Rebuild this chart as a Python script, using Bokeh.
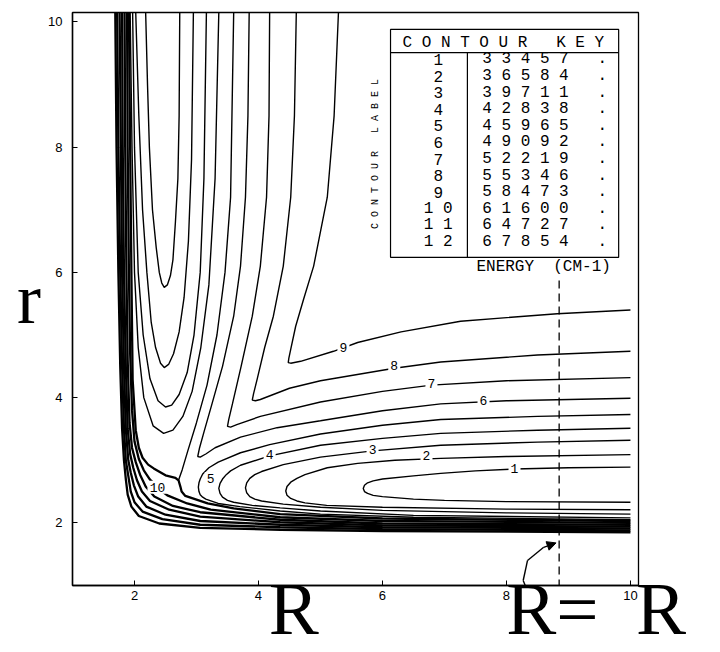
from bokeh.plotting import figure
from bokeh.models import Range1d, FixedTicker, Arrow, NormalHead
from bokeh.embed import file_html
from bokeh.resources import INLINE
from bokeh.core.properties import value

NB = "\u00a0"

# ---------------- data ----------------
levels = [33457, 36584, 39711, 42838, 45965, 49092, 52219, 55346, 58473, 61600, 64727, 67854]
level_ids = list(range(1, 13))

# bottom-channel contours (open to the right edge), upper branch -> tip -> lower branch
C1_R = [10, 9, 8.13, 7.5, 6.94, 6.5, 6.0, 5.85, 5.76, 5.71, 5.69, 5.71, 5.76, 5.85, 6.0, 6.5, 7, 8, 10]
C1_r = [2.89, 2.88, 2.86, 2.83, 2.79, 2.75, 2.70, 2.67, 2.64, 2.60, 2.55, 2.50, 2.47, 2.44, 2.42, 2.38, 2.36, 2.34, 2.33]
C2_R = [10, 8, 6.94, 6.2, 5.6, 5.11, 4.75, 4.62, 4.52, 4.46, 4.44, 4.46, 4.52, 4.62, 4.75, 5.1, 6, 8, 10]
C2_r = [3.09, 3.06, 3.03, 3.0, 2.95, 2.88, 2.77, 2.71, 2.65, 2.58, 2.51, 2.44, 2.39, 2.35, 2.32, 2.28, 2.25, 2.22, 2.21]
C3_R = [10, 8.5, 6.94, 5.84, 5, 4.4, 4.05, 3.94, 3.86, 3.81, 3.79, 3.81, 3.86, 3.94, 4.05, 4.4, 5, 6, 8, 10]
C3_r = [3.32, 3.29, 3.24, 3.15, 3.05, 2.93, 2.82, 2.77, 2.71, 2.64, 2.56, 2.48, 2.42, 2.38, 2.35, 2.30, 2.25, 2.20, 2.16, 2.14]
C4_R = [10, 8.5, 6.94, 6, 5, 4.18, 3.71, 3.55, 3.48, 3.42, 3.38, 3.36, 3.38, 3.42, 3.5, 3.6, 3.9, 4.35, 5, 6.5, 10]
C4_r = [3.51, 3.48, 3.43, 3.35, 3.24, 3.07, 2.92, 2.83, 2.77, 2.70, 2.63, 2.55, 2.47, 2.41, 2.36, 2.33, 2.28, 2.24, 2.19, 2.12, 2.08]
C5_R = [10, 8.5, 6.94, 6, 5, 4.18, 3.71, 3.35, 3.2, 3.1, 3.06, 3.04, 3.03, 3.04, 3.06, 3.1, 3.15, 3.35, 3.7, 4.35, 5, 6.5, 10]
C5_r = [3.73, 3.70, 3.65, 3.56, 3.42, 3.25, 3.12, 2.97, 2.88, 2.78, 2.70, 2.64, 2.57, 2.50, 2.45, 2.41, 2.38, 2.31, 2.26, 2.19, 2.14, 2.09, 2.05]

# L-shaped contours around the upper-right plateau (top edge -> corner -> right edge)
L6_R = [3.85, 3.83, 3.79, 3.71, 3.6, 3.42, 3.25, 3.12, 3.05, 3.02, 3.06, 3.15, 3.3, 3.71, 4.3, 5, 6, 6.94, 8, 10]
L6_r = [10.15, 8.5, 7.2, 6.1, 5.3, 4.5, 3.9, 3.45, 3.2, 3.06, 3.05, 3.1, 3.2, 3.37, 3.52, 3.63, 3.79, 3.9, 3.95, 3.99]
L7_R = [4.18, 4.17, 4.13, 4.03, 3.9, 3.72, 3.58, 3.52, 3.5, 3.55, 3.65, 4.03, 5, 6, 6.79, 8, 10]
L7_r = [10.15, 8.5, 7.2, 6.1, 5.3, 4.5, 3.9, 3.65, 3.54, 3.53, 3.57, 3.70, 3.93, 4.1, 4.2, 4.27, 4.32]
L8_R = [4.61, 4.58, 4.52, 4.40, 4.24, 4.10, 3.98, 3.92, 3.90, 3.95, 4.03, 4.5, 5, 6.19, 6.94, 8.5, 10]
L8_r = [10.15, 8.5, 7.2, 6.1, 5.3, 4.8, 4.3, 4.06, 3.96, 3.95, 3.97, 4.15, 4.27, 4.47, 4.57, 4.68, 4.74]
L9_R = [5.29, 5.22, 5.11, 4.89, 4.73, 4.6, 4.52, 4.49, 4.48, 4.52, 4.68, 5.21, 5.6, 6.3, 7.26, 8.82, 10]
L9_r = [10.15, 8.5, 7.2, 6.1, 5.58, 5.14, 4.77, 4.63, 4.56, 4.55, 4.58, 4.74, 4.88, 5.05, 5.22, 5.34, 5.40]

# left-channel contours (open to the top edge)
Ua_R = [2.18, 2.21, 2.24, 2.29, 2.35, 2.40, 2.44, 2.48, 2.53, 2.58, 2.62, 2.66, 2.70, 2.72, 2.73]
Ua_r = [10.15, 9.0, 8.0, 7.0, 6.4, 6.0, 5.83, 5.76, 5.80, 5.95, 6.2, 6.8, 7.5, 8.5, 10.15]
Ub_R = [2.02, 2.07, 2.13, 2.20, 2.27, 2.34, 2.42, 2.48, 2.55, 2.63, 2.72, 2.80, 2.87, 2.92, 2.95]
Ub_r = [10.15, 8.5, 7.0, 6.0, 5.2, 4.8, 4.55, 4.48, 4.53, 4.7, 5.05, 5.6, 6.5, 7.8, 10.15]
Uc_R = [1.97, 2.0, 2.06, 2.14, 2.25, 2.38, 2.5, 2.6, 2.72, 2.85, 2.96, 3.06, 3.12, 3.16]
Uc_r = [10.15, 8, 6, 5, 4.3, 3.95, 3.85, 3.88, 4.05, 4.4, 5.0, 6.0, 7.5, 10.15]
Ud_R = [1.93, 1.96, 2.0, 2.06, 2.15, 2.3, 2.47, 2.62, 2.78, 2.93, 3.07, 3.2, 3.3, 3.36]
Ud_r = [10.15, 8, 6, 4.8, 4.0, 3.55, 3.43, 3.48, 3.7, 4.1, 4.8, 5.8, 7.5, 10.15]
X_R = [3.6, 3.55, 3.46, 3.33, 3.17, 3.0, 2.86, 2.77, 2.71]
X_r = [10.15, 7.2, 6.0, 5.0, 4.2, 3.6, 3.15, 2.85, 2.68]

# repulsive-wall contours wrapping the lower-left corner
W1_R = [1.69, 1.71, 1.74, 1.77, 1.80, 1.83, 1.86, 1.89, 1.95, 2.07, 2.4, 3.06, 4.35, 6, 10]
W1_r = [10.15, 8, 6, 4.5, 3.5, 3.0, 2.7, 2.45, 2.26, 2.11, 1.99, 1.92, 1.89, 1.87, 1.85]
W2_R = [1.72, 1.74, 1.77, 1.80, 1.83, 1.86, 1.90, 1.94, 2.0, 2.13, 2.45, 3.06, 4.35, 6, 10]
W2_r = [10.15, 8, 6, 4.5, 3.5, 3.0, 2.75, 2.5, 2.33, 2.18, 2.06, 1.97, 1.93, 1.90, 1.88]
W3_R = [1.76, 1.78, 1.80, 1.83, 1.86, 1.90, 1.94, 1.99, 2.06, 2.19, 2.5, 3.06, 4.35, 6, 10]
W3_r = [10.15, 8, 6, 4.5, 3.5, 3.0, 2.8, 2.6, 2.42, 2.26, 2.13, 2.03, 1.97, 1.93, 1.91]
W4_R = [1.80, 1.81, 1.83, 1.86, 1.89, 1.93, 1.98, 2.04, 2.12, 2.25, 2.56, 3.06, 4.35, 6, 10]
W4_r = [10.15, 8, 6, 4.5, 3.5, 3.1, 2.88, 2.68, 2.5, 2.35, 2.21, 2.1, 2.01, 1.96, 1.94]
W5_R = [1.84, 1.85, 1.87, 1.89, 1.92, 1.96, 2.02, 2.09, 2.18, 2.32, 2.62, 3.06, 4.35, 6, 10]
W5_r = [10.15, 8, 6, 4.6, 3.6, 3.2, 2.97, 2.77, 2.58, 2.42, 2.27, 2.17, 2.05, 1.99, 1.97]
W6_R = [1.88, 1.89, 1.91, 1.93, 1.96, 2.0, 2.07, 2.15, 2.25, 2.37, 2.46, 2.53, 2.85, 3.23, 4.35, 6, 10]
W6_r = [10.15, 8, 6, 4.7, 3.8, 3.3, 3.02, 2.84, 2.69, 2.58, 2.49, 2.44, 2.31, 2.21, 2.09, 2.03, 2.0]
W7_R = [1.91, 1.93, 1.95, 1.97, 2.02, 2.07, 2.13, 2.22, 2.31, 2.5, 2.66, 2.71, 2.74, 2.76, 2.82, 3.18, 3.6, 4.35, 6, 10]
W7_r = [10.15, 8, 6, 4.29, 3.48, 3.2, 3.04, 2.93, 2.87, 2.76, 2.72, 2.68, 2.58, 2.50, 2.43, 2.31, 2.23, 2.14, 2.07, 2.03]

# in-plot contour labels
lab_text = ["1", "2", "3", "4", "5", "6", "7", "8", "9", "10"]
lab_R = [8.13, 6.71, 5.84, 4.18, 3.23, 7.63, 6.79, 6.19, 5.37, 2.37]
lab_r = [2.87, 3.08, 3.17, 3.09, 2.71, 3.96, 4.23, 4.51, 4.80, 2.57]

R_c = 8.85                         # dashed line R = Rc
arrow_R = [8.50, 8.27, 8.34, 8.60, 8.80]
arrow_r = [0.52, 1.08, 1.40, 1.61, 1.68]

x_ticks = [2, 4, 6, 8, 10]
y_ticks = [2, 4, 6, 8, 10]
x_name = NB * 13 + "R" + NB * 10 + "R=" + NB * 2 + "R"
y_name = "r"

# ---------------- figure ----------------
p = figure(width=720, height=652, output_backend="svg", toolbar_location=None,
           x_range=Range1d(1.0, 10.13), y_range=Range1d(1.0, 10.15),
           min_border_left=72, min_border_right=82, min_border_top=12, min_border_bottom=67)
p.xgrid.visible = False
p.ygrid.visible = False
p.outline_line_color = "black"
p.outline_line_width = 1.3
p.background_fill_color = "white"
p.border_fill_color = "white"

p.xaxis.ticker = FixedTicker(ticks=x_ticks)
p.yaxis.ticker = FixedTicker(ticks=y_ticks)
for ax in (p.xaxis[0], p.yaxis[0]):
    ax.major_tick_in = 5
    ax.major_tick_out = 0
    ax.minor_tick_in = 0
    ax.minor_tick_out = 0
    ax.axis_line_color = "black"
    ax.axis_line_width = 1.4
    ax.major_tick_line_color = "black"
    ax.major_label_text_font = "Liberation Sans"
    ax.major_label_text_font_size = "13px"
    ax.major_label_text_color = "black"
    ax.axis_label_text_font = "Liberation Serif"
    ax.axis_label_text_font_style = "normal"
    ax.axis_label_text_color = "black"
p.yaxis.major_label_standoff = 10
p.xaxis.major_label_standoff = 5

p.xaxis.axis_label = x_name
p.xaxis.axis_label_text_font_size = "75px"
p.xaxis.axis_label_standoff = -36

p.yaxis.axis_label = y_name
p.yaxis.axis_label_text_font_size = "72px"
p.yaxis.axis_label_standoff = 4
if "axis_label_orientation" in p.yaxis[0].properties():
    p.yaxis.axis_label_orientation = "horizontal"

main_xs = [C1_R, C2_R, C3_R, C4_R, C5_R, L6_R, L7_R, L8_R, L9_R, Ua_R, Ub_R, Uc_R, Ud_R, X_R]
main_ys = [C1_r, C2_r, C3_r, C4_r, C5_r, L6_r, L7_r, L8_r, L9_r, Ua_r, Ub_r, Uc_r, Ud_r, X_r]
p.multi_line(xs=main_xs, ys=main_ys, line_color="black", line_width=1.4)

wall_xs = [W1_R, W2_R, W3_R, W4_R, W5_R, W6_R, W7_R]
wall_ys = [W1_r, W2_r, W3_r, W4_r, W5_r, W6_r, W7_r]
p.multi_line(xs=wall_xs, ys=wall_ys, line_color="black", line_width=2.3)

# labels sitting in gaps of the contour lines
p.rect(x=lab_R, y=lab_r, width=[8 * len(t) + 4 for t in lab_text], height=[13] * len(lab_text),
       width_units="screen", height_units="screen", fill_color="white", line_color=None)
p.text(x=lab_R, y=lab_r, text=lab_text, text_align="center", text_baseline="middle",
       text_font=value("Liberation Mono"), text_font_size="13px", text_color="black")

# dashed R = Rc line
p.segment(x0=[R_c], y0=[5.87], x1=[R_c], y1=[1.0], line_color="black",
          line_width=1.3, line_dash="8 5")

# contour key box
p.quad(left=[6.13], right=[9.81], top=[9.88], bottom=[6.24], fill_color="white",
       line_color="black", line_width=1.2)
p.segment(x0=[6.13, 7.37], y0=[9.51, 9.51], x1=[9.81, 7.37], y1=[9.51, 6.24],
          line_color="black", line_width=1.2)
p.text(x=[7.95], y=[9.67], text=[" ".join("CONTOUR") + NB * 3 + " ".join("KEY")],
       text_align="center", text_baseline="middle", text_font=value("Liberation Mono"),
       text_font_size="16px", text_color="black")
row_y = [9.40 - 0.265 * k for k in range(len(levels))]
p.text(x=[6.90] * len(levels), y=row_y, text=[" ".join(str(i)) for i in level_ids],
       text_align="center", text_baseline="middle", text_font=value("Liberation Mono"),
       text_font_size="16px", text_color="black")
p.text(x=[7.61] * len(levels), y=row_y, text=[" ".join(str(v)) + NB * 3 + "." for v in levels],
       text_align="left", text_baseline="middle", text_font=value("Liberation Mono"),
       text_font_size="16px", text_color="black")
p.text(x=[5.89], y=[7.89], text=[" ".join("CONTOUR") + NB * 3 + " ".join("LABEL")], angle=[1.5708],
       text_align="center", text_baseline="middle", text_font=value("Liberation Mono"),
       text_font_size="10px", text_color="black")
p.text(x=[8.60], y=[6.08], text=["ENERGY" + NB * 2 + "(CM-1)"], text_align="center",
       text_baseline="middle", text_font=value("Liberation Mono"), text_font_size="16px",
       text_color="black")

# curved arrow pointing at the dashed line
for i in range(len(arrow_R) - 1):
    last = i == len(arrow_R) - 2
    p.add_layout(Arrow(x_start=arrow_R[i], y_start=arrow_r[i], x_end=arrow_R[i + 1], y_end=arrow_r[i + 1],
                       line_color="black", line_width=1.4,
                       end=NormalHead(size=9, fill_color="black", line_color="black") if last else None))

open("out.html", "w").write(file_html(p, INLINE))
